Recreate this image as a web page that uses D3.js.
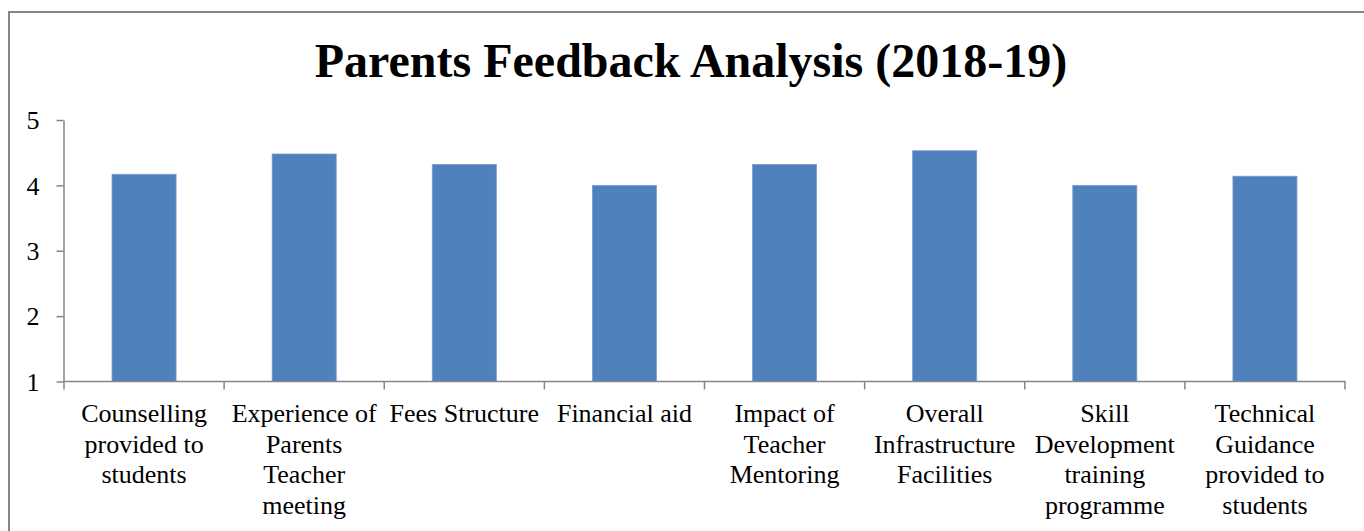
<!DOCTYPE html>
<html>
<head>
<meta charset="utf-8">
<script src="https://cdn.jsdelivr.net/npm/d3@7"></script>
<style>
  html, body { margin: 0; padding: 0; background: #ffffff; }
  svg { display: block; }
  text { font-family: "Liberation Serif", "Times New Roman", serif; fill: #000; }
</style>
</head>
<body>
<svg id="chart" width="1364" height="531"></svg>
<script>
// ---- Data ----
const title = "Parents Feedback Analysis (2018-19)";
const categories = [
  "Counselling\nprovided to\nstudents",
  "Experience of\nParents\nTeacher\nmeeting",
  "Fees Structure",
  "Financial aid",
  "Impact of\nTeacher\nMentoring",
  "Overall\nInfrastructure\nFacilities",
  "Skill\nDevelopment\ntraining\nprogramme",
  "Technical\nGuidance\nprovided to\nstudents"
];
const values = [4.17, 4.48, 4.32, 4.0, 4.32, 4.53, 4.0, 4.14];
const yTicks = [1, 2, 3, 4, 5];

// ---- Layout ----
const svg = d3.select("#chart");
const axisColor = "#868686";
const barColor = "#4F81BD";

// outer border (partially cropped on the right/bottom)
svg.append("rect")
  .attr("x", 9).attr("y", 12)
  .attr("width", 1420).attr("height", 600)
  .attr("fill", "none")
  .attr("stroke", axisColor)
  .attr("stroke-width", 2);

const x = d3.scaleBand().domain(categories).range([64, 1345]).padding(0);
const y = d3.scaleLinear().domain([1, 5]).range([381.5, 120]);

// title
svg.append("text")
  .attr("x", 691).attr("y", 77)
  .attr("text-anchor", "middle")
  .style("font-size", "48px")
  .style("font-weight", "bold")
  .text(title);

// bars
const barW = x.bandwidth() * 0.4;
svg.append("g").selectAll("rect")
  .data(categories)
  .join("rect")
  .attr("x", (d) => x(d) + (x.bandwidth() - barW) / 2)
  .attr("width", barW)
  .attr("y", (d, i) => y(values[i]))
  .attr("height", (d, i) => y(1) - y(values[i]))
  .attr("fill", barColor)
  .attr("stroke", "#7a9ccf")
  .attr("stroke-width", 0.8);

// y axis
const yAxis = svg.append("g")
  .attr("transform", "translate(63.5,0)")
  .call(d3.axisLeft(y).tickValues(yTicks).tickFormat(d3.format("d")).tickSize(7).tickSizeOuter(0).tickPadding(17));
yAxis.attr("font-size", null).attr("font-family", null);
yAxis.select(".domain").attr("stroke", axisColor).attr("stroke-width", 1.5);
yAxis.selectAll(".tick line").attr("stroke", axisColor).attr("stroke-width", 1.5);
yAxis.selectAll(".tick text")
  .style("font-family", '"Liberation Serif", "Times New Roman", serif')
  .style("font-size", "26px")
  .attr("dy", "0.34em")
  .attr("fill", "#000");

// x axis line
const xAxisG = svg.append("g");
xAxisG.append("line")
  .attr("x1", 63.5).attr("x2", x.range()[1] + 0.5)
  .attr("y1", y(1)).attr("y2", y(1))
  .attr("stroke", axisColor).attr("stroke-width", 1.5);

// x ticks at band boundaries
const boundaries = categories.map((c) => x(c)).concat([x(categories[categories.length - 1]) + x.bandwidth()]);
xAxisG.selectAll("line.tick")
  .data(boundaries)
  .join("line")
  .attr("class", "tick")
  .attr("x1", (d) => d).attr("x2", (d) => d)
  .attr("y1", y(1)).attr("y2", y(1) + 8)
  .attr("stroke", axisColor).attr("stroke-width", 1.5);

// category labels
const lineH = 30.5;
const labels = xAxisG.selectAll("text.cat")
  .data(categories)
  .join("text")
  .attr("class", "cat")
  .attr("text-anchor", "middle")
  .attr("x", (d) => x(d) + x.bandwidth() / 2)
  .attr("y", 422)
  .style("font-size", "26px");
labels.each(function (d) {
  const t = d3.select(this);
  d.split("\n").forEach((ln, i) => {
    t.append("tspan")
      .attr("x", x(d) + x.bandwidth() / 2)
      .attr("y", 422 + i * lineH)
      .text(ln);
  });
});
</script>
</body>
</html>
